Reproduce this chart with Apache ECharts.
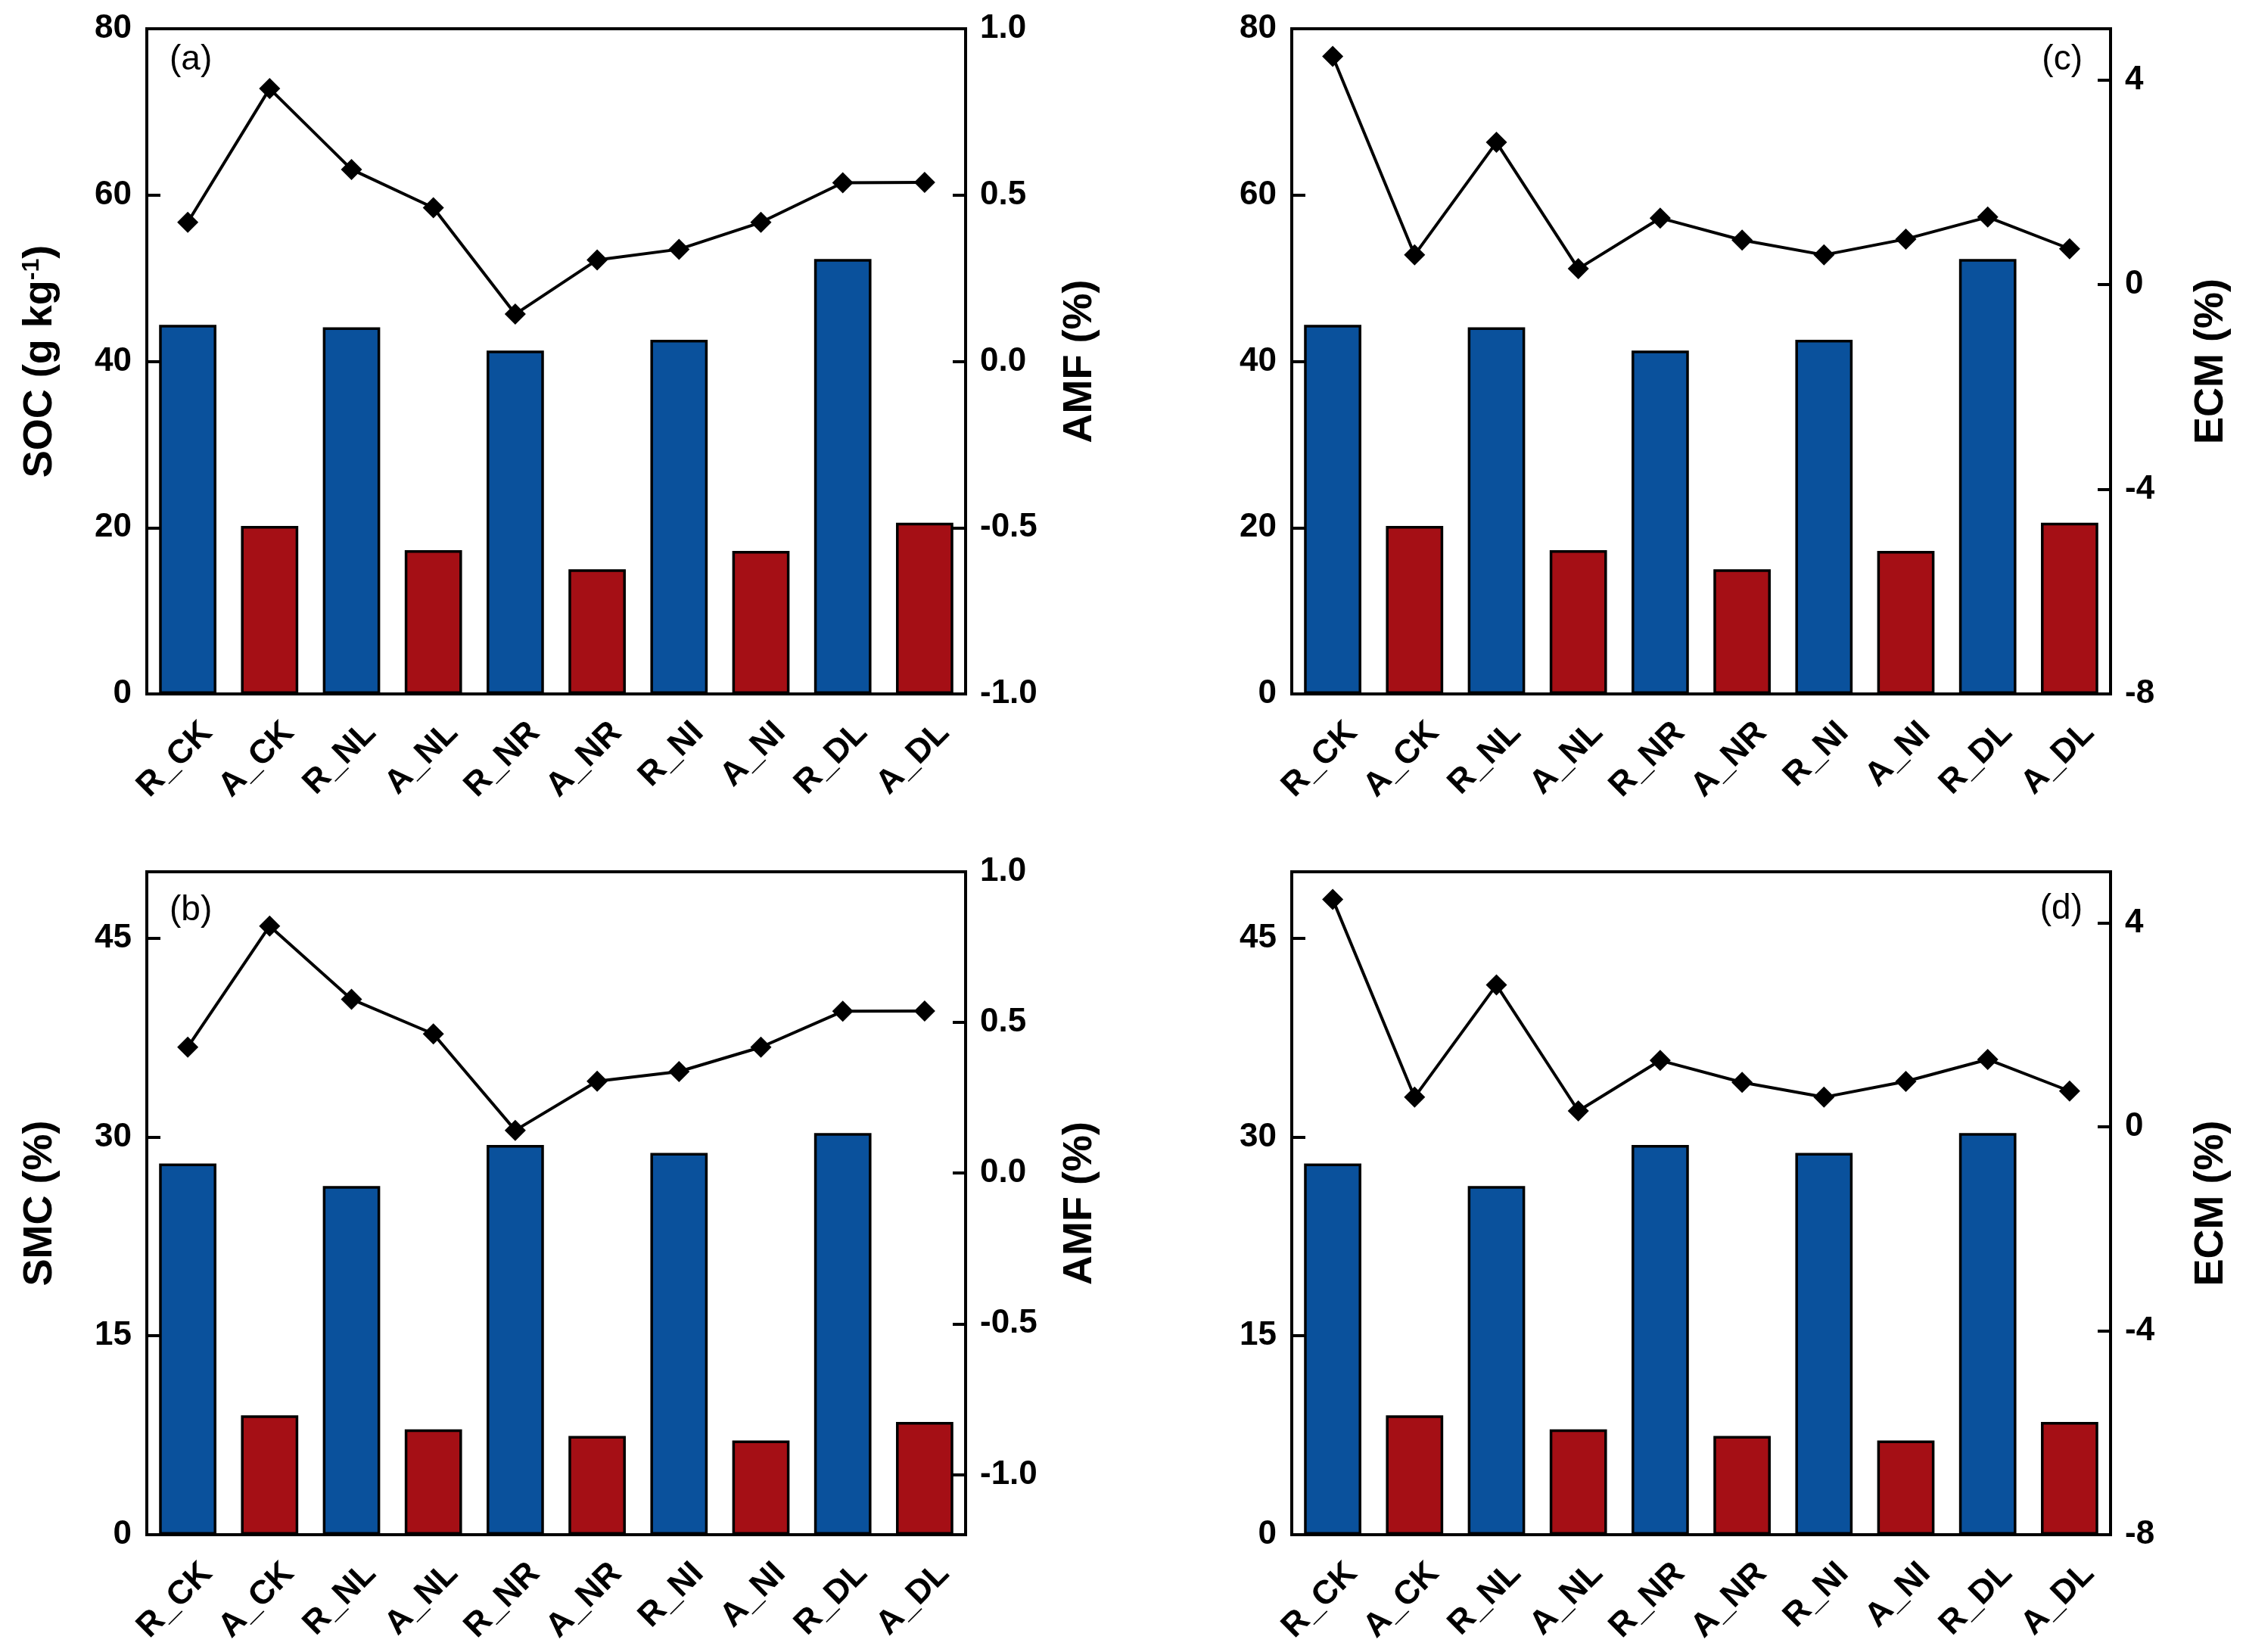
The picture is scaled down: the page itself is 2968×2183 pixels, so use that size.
<!DOCTYPE html>
<html>
<head>
<meta charset="utf-8">
<script src="https://cdn.jsdelivr.net/npm/echarts@6/dist/echarts.min.js"></script>
<style>
html,body{margin:0;padding:0;background:#fff;}
#chart{width:2968px;height:2183px;}
</style>
</head>
<body>
<div id="chart"></div>
<script>
// ---- data ----
const categories = ['R_CK','A_CK','R_NL','A_NL','R_NR','A_NR','R_NI','A_NI','R_DL','A_DL'];
const socValues = [44.4, 20.2, 44.1, 17.3, 41.3, 15.0, 42.6, 17.2, 52.3, 20.6];
const smcValues = [28.0, 9.0, 26.3, 7.95, 29.4, 7.45, 28.8, 7.1, 30.3, 8.5];
const amfValues = [0.418, 0.82, 0.577, 0.462, 0.142, 0.305, 0.337, 0.418, 0.537, 0.538];
const ecmValues = [4.46, 0.58, 2.78, 0.31, 1.30, 0.87, 0.58, 0.89, 1.32, 0.70];
const socTicks = [0, 20, 40, 60, 80];
const smcTicks = [0, 15, 30, 45];
const amfTicks = [-1.0, -0.5, 0.0, 0.5, 1.0];
const ecmTicks = [-8, -4, 0, 4];
const panelLetters = ['(a)', '(b)', '(c)', '(d)'];

const BLUE = '#0a519c';
const RED = '#a50f15';
const FONT = 'Liberation Sans, Arial, sans-serif';

const chart = echarts.init(document.getElementById('chart'), null, {renderer: 'canvas'});

const grids = [
  {left: 194, top: 38, width: 1082, height: 879},
  {left: 194, top: 1152, width: 1082, height: 876},
  {left: 1707, top: 38, width: 1082, height: 879},
  {left: 1707, top: 1152, width: 1082, height: 876}
];

const panels = [
  {bars: socValues, barMin: 0, barMax: 80, barTicks: socTicks, barName: '{a|SOC (g kg}{s|-1}{a|)}',
   line: amfValues, lineMin: -1, lineMax: 1, lineTicks: amfTicks, lineName: 'AMF (%)', lineGap: 124, lineFmt: v => v.toFixed(1)},
  {bars: smcValues, barMin: 0, barMax: 50, barTicks: smcTicks, barName: 'SMC (%)',
   line: amfValues, lineMin: -1.2, lineMax: 1, lineTicks: amfTicks, lineName: 'AMF (%)', lineGap: 124, lineFmt: v => v.toFixed(1)},
  {bars: socValues, barMin: 0, barMax: 80, barTicks: socTicks, barName: '',
   line: ecmValues, lineMin: -8, lineMax: 5, lineTicks: ecmTicks, lineName: 'ECM (%)', lineGap: 106, lineFmt: v => String(v)},
  {bars: smcValues, barMin: 0, barMax: 50, barTicks: smcTicks, barName: '',
   line: ecmValues, lineMin: -8, lineMax: 5, lineTicks: ecmTicks, lineName: 'ECM (%)', lineGap: 106, lineFmt: v => String(v)}
];

const axisLine = {show: true, lineStyle: {color: '#000', width: 4}};
const tickLabel = {color: '#000', fontSize: 44, fontWeight: 'bold', fontFamily: FONT};

const option = {
  backgroundColor: '#fff',
  animation: false,
  grid: grids.map(g => Object.assign({show: true, borderColor: '#000', borderWidth: 4, backgroundColor: 'transparent'}, g)),
  title: [
    {text: panelLetters[0], left: 224, top: 56},
    {text: panelLetters[1], left: 224, top: 1180},
    {text: panelLetters[2], right: 216, top: 56},
    {text: panelLetters[3], right: 216, top: 1178}
  ].map(t => Object.assign({padding: 0, textStyle: {fontSize: 46, fontWeight: 'normal', color: '#000', fontFamily: FONT}}, t)),
  xAxis: [],
  yAxis: [],
  series: []
};

panels.forEach((p, i) => {
  option.xAxis.push({
    type: 'category', gridIndex: i, data: categories,
    axisLine: axisLine,
    axisTick: {show: true, inside: true, alignWithLabel: true, length: 15, lineStyle: {color: '#000', width: 4}},
    axisLabel: Object.assign({}, tickLabel, {rotate: 45, interval: 0, margin: 70, padding: [0, -36, 0, 0]}),
    splitLine: {show: false}
  });
  option.yAxis.push({
    type: 'value', gridIndex: i, position: 'left', min: p.barMin, max: p.barMax,
    axisLine: axisLine,
    axisTick: {show: true, inside: true, length: 18, lineStyle: {color: '#000', width: 4}, customValues: p.barTicks},
    axisLabel: Object.assign({}, tickLabel, {margin: 20, customValues: p.barTicks}),
    splitLine: {show: false},
    name: p.barName, nameLocation: 'middle', nameRotate: 90, nameGap: 114,
    nameTextStyle: {color: '#000', fontSize: 54, fontWeight: 'bold', fontFamily: FONT,
      rich: {a: {fontSize: 54, fontWeight: 'bold', fontFamily: FONT, color: '#000'},
             s: {fontSize: 32, fontWeight: 'bold', fontFamily: FONT, color: '#000', verticalAlign: 'top'}}}
  });
  option.yAxis.push({
    type: 'value', gridIndex: i, position: 'right', min: p.lineMin, max: p.lineMax,
    axisLine: axisLine,
    axisTick: {show: true, inside: true, length: 17, lineStyle: {color: '#000', width: 4}, customValues: p.lineTicks},
    axisLabel: Object.assign({}, tickLabel, {margin: 19, customValues: p.lineTicks, formatter: p.lineFmt}),
    splitLine: {show: false},
    name: p.lineName, nameLocation: 'middle', nameRotate: 90, nameGap: p.lineGap,
    nameTextStyle: {color: '#000', fontSize: 54, fontWeight: 'bold', fontFamily: FONT}
  });
  option.series.push({
    type: 'bar', xAxisIndex: i, yAxisIndex: 2 * i, barWidth: '70%',
    data: p.bars.map((v, k) => ({value: v, itemStyle: {color: categories[k].charAt(0) === 'R' ? BLUE : RED}})),
    itemStyle: {borderColor: '#000', borderWidth: 3.5},
    z: 2
  });
  option.series.push({
    type: 'line', xAxisIndex: i, yAxisIndex: 2 * i + 1, data: p.line,
    symbol: 'diamond', symbolSize: 28,
    lineStyle: {color: '#000', width: 4},
    itemStyle: {color: '#000'},
    z: 5
  });
});

chart.setOption(option);
</script>
</body>
</html>
